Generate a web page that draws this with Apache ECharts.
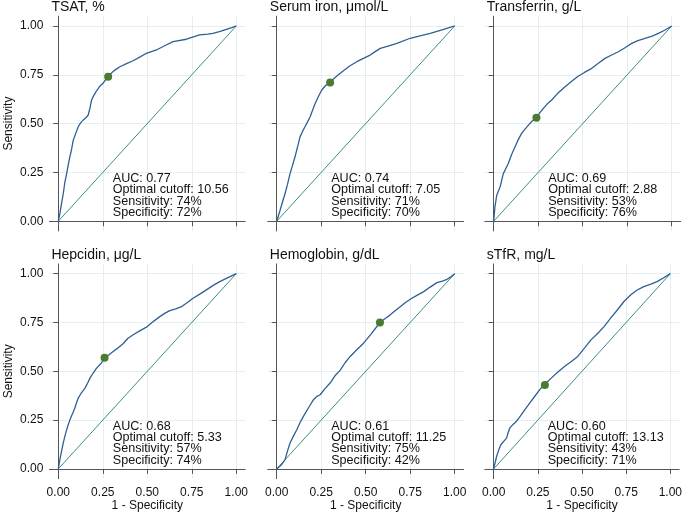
<!DOCTYPE html>
<html><head><meta charset="utf-8">
<script src="https://cdn.jsdelivr.net/npm/echarts@6/dist/echarts.min.js"></script>
<style>html,body{margin:0;padding:0;background:#fff}#c{width:685px;height:513px}</style>
</head><body><div id="c"></div><script>
const panelTitles = ['TSAT, %', 'Serum iron, μmol/L', 'Transferrin, g/L', 'Hepcidin, μg/L', 'Hemoglobin, g/dL', 'sTfR, mg/L'];
const tickValues = [0, 0.25, 0.5, 0.75, 1];
const aucValues = ['0.77', '0.74', '0.69', '0.68', '0.61', '0.60'];
const cutoffValues = ['10.56', '7.05', '2.88', '5.33', '11.25', '13.13'];
const sensValues = [74, 71, 53, 57, 75, 43];
const specValues = [72, 70, 76, 74, 42, 71];

const rocTSAT = [[0,0],[0.009,0.039],[0.018,0.09],[0.028,0.142],[0.037,0.2],[0.047,0.244],[0.056,0.29],[0.065,0.33],[0.075,0.37],[0.084,0.415],[0.098,0.45],[0.112,0.484],[0.126,0.505],[0.14,0.518],[0.155,0.53],[0.168,0.544],[0.178,0.58],[0.187,0.621],[0.196,0.638],[0.215,0.668],[0.234,0.692],[0.25,0.705],[0.267,0.726],[0.28,0.74],[0.3,0.76],[0.318,0.774],[0.346,0.791],[0.38,0.806],[0.42,0.822],[0.46,0.842],[0.495,0.86],[0.551,0.877],[0.6,0.9],[0.645,0.92],[0.72,0.932],[0.794,0.954],[0.84,0.958],[0.869,0.962],[0.91,0.972],[0.944,0.983],[0.975,0.992],[1,1]];
const rocSerumIron = [[0,0],[0.019,0.056],[0.033,0.1],[0.047,0.142],[0.061,0.19],[0.075,0.244],[0.09,0.29],[0.103,0.33],[0.117,0.38],[0.131,0.432],[0.145,0.46],[0.159,0.484],[0.174,0.51],[0.188,0.535],[0.202,0.57],[0.216,0.603],[0.235,0.64],[0.253,0.672],[0.275,0.695],[0.3,0.71],[0.32,0.73],[0.338,0.744],[0.375,0.771],[0.41,0.795],[0.45,0.817],[0.49,0.835],[0.525,0.851],[0.555,0.87],[0.582,0.885],[0.63,0.898],[0.675,0.911],[0.75,0.937],[0.81,0.95],[0.863,0.962],[0.9,0.972],[0.938,0.983],[1,1]];
const rocTransferrin = [[0,0],[0.007,0.074],[0.017,0.133],[0.036,0.176],[0.054,0.244],[0.068,0.27],[0.082,0.296],[0.1,0.34],[0.12,0.381],[0.138,0.418],[0.157,0.45],[0.176,0.472],[0.195,0.492],[0.215,0.512],[0.24,0.53],[0.26,0.556],[0.279,0.578],[0.3,0.6],[0.326,0.621],[0.36,0.655],[0.401,0.689],[0.44,0.718],[0.476,0.744],[0.51,0.762],[0.551,0.783],[0.59,0.81],[0.625,0.834],[0.66,0.85],[0.7,0.868],[0.74,0.89],[0.775,0.911],[0.81,0.925],[0.85,0.937],[0.89,0.948],[0.925,0.962],[0.96,0.978],[1,1]];
const rocHepcidin = [[0,0],[0.009,0.048],[0.018,0.09],[0.028,0.133],[0.037,0.168],[0.047,0.201],[0.058,0.232],[0.069,0.261],[0.081,0.285],[0.093,0.312],[0.102,0.338],[0.112,0.363],[0.13,0.39],[0.15,0.414],[0.165,0.44],[0.178,0.465],[0.195,0.49],[0.215,0.516],[0.24,0.54],[0.26,0.57],[0.285,0.585],[0.308,0.601],[0.336,0.62],[0.364,0.641],[0.39,0.668],[0.421,0.687],[0.46,0.708],[0.495,0.726],[0.53,0.752],[0.57,0.78],[0.6,0.798],[0.626,0.811],[0.66,0.82],[0.692,0.831],[0.725,0.852],[0.757,0.874],[0.795,0.895],[0.832,0.917],[0.87,0.94],[0.907,0.959],[0.95,0.978],[1,1]];
const rocHemoglobin = [[0,0],[0.025,0.02],[0.047,0.048],[0.06,0.09],[0.075,0.133],[0.094,0.168],[0.113,0.201],[0.13,0.235],[0.15,0.269],[0.178,0.312],[0.206,0.354],[0.224,0.37],[0.244,0.38],[0.27,0.41],[0.3,0.44],[0.33,0.48],[0.356,0.505],[0.385,0.545],[0.413,0.576],[0.45,0.61],[0.488,0.644],[0.53,0.69],[0.58,0.75],[0.61,0.77],[0.638,0.789],[0.665,0.81],[0.694,0.831],[0.72,0.85],[0.75,0.869],[0.79,0.89],[0.826,0.908],[0.86,0.93],[0.9,0.954],[0.93,0.962],[0.957,0.971],[0.98,0.985],[1,1]];
const rocSTfR = [[0,0],[0.008,0.03],[0.017,0.065],[0.03,0.1],[0.041,0.124],[0.056,0.14],[0.073,0.158],[0.082,0.185],[0.092,0.21],[0.11,0.228],[0.129,0.244],[0.152,0.272],[0.176,0.303],[0.205,0.338],[0.232,0.371],[0.26,0.405],[0.29,0.435],[0.326,0.465],[0.362,0.495],[0.401,0.525],[0.44,0.55],[0.476,0.576],[0.515,0.62],[0.551,0.661],[0.59,0.695],[0.625,0.729],[0.66,0.77],[0.7,0.814],[0.74,0.86],[0.775,0.891],[0.81,0.915],[0.85,0.934],[0.89,0.946],[0.925,0.959],[0.96,0.978],[1,1]];
const rocCurves = [rocTSAT, rocSerumIron, rocTransferrin, rocHepcidin, rocHemoglobin, rocSTfR];
const referenceLine = [[0, 0], [1, 1]];

const colLeft = [49.4, 267.8, 484.8];
const rowTop = [16.2, 263.9];
const gridW = 195.8, gridH = 214.8;
const curveColor = '#2f5f93', diagColor = '#3e8e83', pointColor = '#4b7b30';
const gridColor = '#e5eff2', axisColor = '#555555', textColor = '#111111';
const fontFam = '"Liberation Sans", Arial, sans-serif';

const grids = [], xAxes = [], yAxes = [], series = [], titles = [];
for (let i = 0; i < 6; i++) {
  const r = Math.floor(i / 3), c = i % 3;
  grids.push({ left: colLeft[c], top: rowTop[r], width: gridW, height: gridH });
  titles.push({ text: panelTitles[i], left: colLeft[c] + 2, top: rowTop[r] - 16, padding: 0,
    textStyle: { fontSize: 14, fontWeight: 'normal', color: textColor, fontFamily: fontFam } });
  const common = {
    type: 'value', gridIndex: i, min: -0.05, max: 1.05,
    axisLine: { show: true, lineStyle: { color: axisColor, width: 1 } },
    axisTick: { show: true, length: 5, customValues: tickValues, lineStyle: { color: axisColor } },
    splitLine: { show: true, lineStyle: { color: gridColor, width: 1 } },
    nameTextStyle: { fontSize: 12, color: textColor, fontFamily: fontFam }
  };
  xAxes.push(Object.assign({}, common, {
    position: 'bottom',
    axisLabel: { show: r === 1, customValues: tickValues, formatter: v => v.toFixed(2), fontSize: 12, margin: 8, color: textColor, fontFamily: fontFam, showMinLabel: true, showMaxLabel: true },
    name: r === 1 ? '1 - Specificity' : '', nameLocation: 'middle', nameGap: 21
  }));
  yAxes.push(Object.assign({}, common, {
    position: 'left',
    axisLabel: { show: c === 0, customValues: tickValues, formatter: v => v.toFixed(2), fontSize: 12, margin: 6, color: textColor, fontFamily: fontFam, showMinLabel: true, showMaxLabel: true },
    name: c === 0 ? 'Sensitivity' : '', nameLocation: 'middle', nameGap: 35, nameRotate: 90
  }));
  series.push({ type: 'line', xAxisIndex: i, yAxisIndex: i, data: referenceLine, symbol: 'none', silent: true,
    lineStyle: { color: diagColor, width: 1 } });
  series.push({ type: 'line', xAxisIndex: i, yAxisIndex: i, data: rocCurves[i], symbol: 'none', silent: true,
    lineStyle: { color: curveColor, width: 1.3 } });
  series.push({ type: 'scatter', xAxisIndex: i, yAxisIndex: i, data: [[(100 - specValues[i]) / 100, sensValues[i] / 100]],
    symbol: 'circle', symbolSize: 8, itemStyle: { color: pointColor, opacity: 1 }, z: 5 });
  series.push({ type: 'scatter', xAxisIndex: i, yAxisIndex: i, data: [[0.306, 0.246]], symbolSize: 0, silent: true, z: 6,
    label: { show: true, position: [0, 0], align: 'left', verticalAlign: 'top',
      formatter: 'AUC: ' + aucValues[i] + '\nOptimal cutoff: ' + cutoffValues[i] + '\nSensitivity: ' + sensValues[i] + '%\nSpecificity: ' + specValues[i] + '%',
      fontSize: 12.6, lineHeight: 11.2, color: textColor, opacity: 1, fontFamily: fontFam } });
}
const chart = echarts.init(document.getElementById('c'), null, { renderer: 'canvas' });
chart.setOption({ animation: false, backgroundColor: '#fff', title: titles, grid: grids, xAxis: xAxes, yAxis: yAxes, series: series });
</script></body></html>
